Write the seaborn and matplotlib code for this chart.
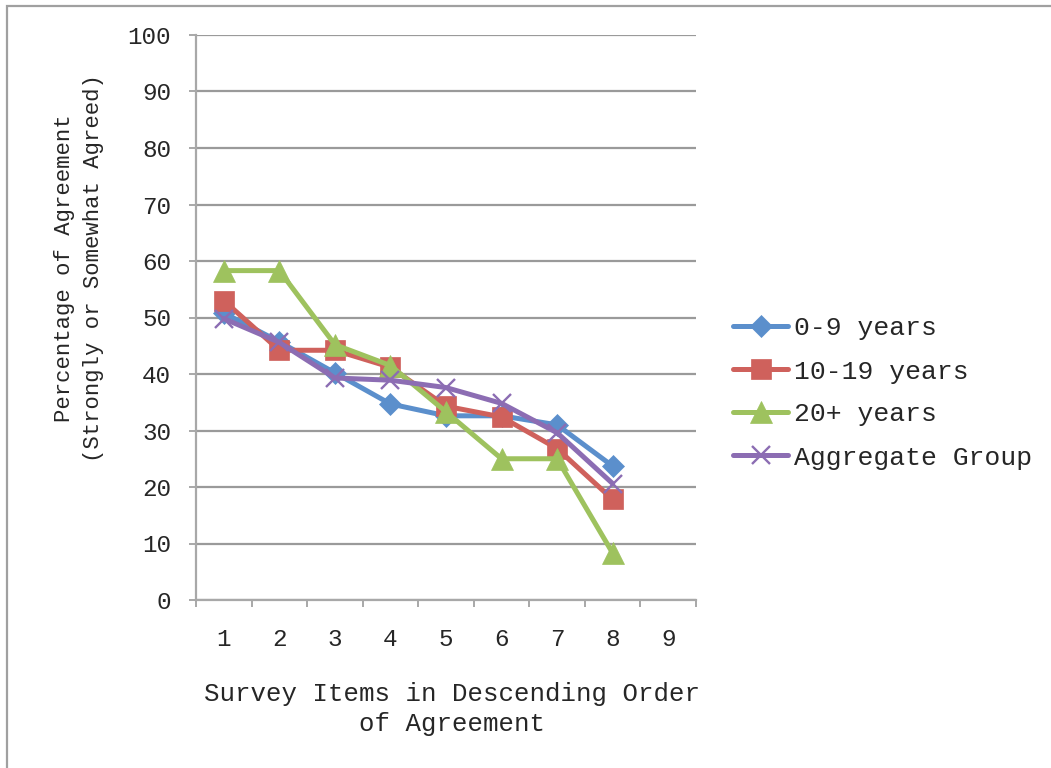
import matplotlib
matplotlib.use("Agg")
import matplotlib.pyplot as plt
from matplotlib.patches import Rectangle
import seaborn as sns
import pandas as pd

# Survey items (x positions) and tick labels
items = [1, 2, 3, 4, 5, 6, 7, 8]
tick_labels = ["1", "2", "3", "4", "5", "6", "7", "8", "9"]

# Percentage of agreement per experience group
years_0_9 = [50.8, 45.7, 40.2, 34.7, 32.6, 32.6, 31.0, 23.7]
years_10_19 = [53.0, 44.2, 44.2, 41.2, 34.3, 32.4, 26.8, 17.8]
years_20_plus = [58.3, 58.3, 45.2, 41.5, 33.3, 25.0, 25.0, 8.3]
aggregate = [49.8, 45.6, 39.3, 38.9, 37.6, 34.8, 29.6, 20.6]

groups = ["0-9 years", "10-19 years", "20+ years", "Aggregate Group"]
series = [years_0_9, years_10_19, years_20_plus, aggregate]

colors = ["#5B8FCC", "#CF615C", "#9EC25E", "#8C6DB3"]
markers = ["D", "s", "^", "x"]
msizes = [11.5, 14, 15.5, 13]

df = pd.concat(
    [pd.DataFrame({"item": items, "pct": vals, "group": g}) for g, vals in zip(groups, series)],
    ignore_index=True,
)

sns.set_style("white")
plt.rcParams["font.family"] = ["Liberation Mono", "DejaVu Sans Mono"]

fig = plt.figure(figsize=(10.51, 7.68), dpi=100)
W, H = 1051, 768
ax = fig.add_axes([196 / W, 1 - 600 / H, 500 / W, 565 / H])

for g, c, m, ms in zip(groups, colors, markers, msizes):
    sub = df[df["group"] == g]
    sns.lineplot(
        data=sub, x="item", y="pct", ax=ax, color=c, label=g,
        marker=m, markersize=ms, markeredgecolor=c, markerfacecolor=c,
        markeredgewidth=1.7 if m == "x" else 0.5, linewidth=3.6,
        errorbar=None, zorder=3,
    )

grid_col = "#9A9A9A"
ax.set_xlim(0.5, 9.5)
ax.set_ylim(0, 100)
ax.set_yticks(range(0, 101, 10))
ax.set_xticks(range(1, 10))
ax.set_xticklabels(tick_labels)
ax.set_xticks([x + 0.5 for x in range(0, 10)], minor=True)
ax.yaxis.grid(True, color=grid_col, linewidth=1.6)
ax.xaxis.grid(False)
ax.set_axisbelow(True)

for side in ["top", "right"]:
    ax.spines[side].set_visible(False)
for side in ["left", "bottom"]:
    ax.spines[side].set_color("#A8A8A8")
    ax.spines[side].set_linewidth(1.6)
    ax.spines[side].set_zorder(1)

ax.tick_params(axis="y", which="major", length=5, width=1.4, color="#A8A8A8",
               labelsize=17.5, pad=13, direction="out", left=True)
ax.tick_params(axis="x", which="major", length=0, labelsize=17.5, pad=20)
ax.tick_params(axis="x", which="minor", length=5, width=1.4, color="#A8A8A8",
               direction="out", bottom=True)

ax.set_xlabel("")
ax.set_ylabel("")

fig.text(79 / W, 1 - 268 / H,
         "Percentage of Agreement\n(Strongly or Somewhat Agreed)",
         rotation=90, ha="center", va="center", multialignment="center",
         fontsize=16, linespacing=1.5)
fig.text(452 / W, 1 - 709 / H,
         "Survey Items in Descending Order\nof Agreement",
         ha="center", va="center", multialignment="center",
         fontsize=18.5, linespacing=1.35)

handles, labels = ax.get_legend_handles_labels()
ax.legend(handles, labels, loc="center left", bbox_to_anchor=(733 / W, 1 - 393 / H),
          bbox_transform=fig.transFigure, frameon=False, fontsize=19,
          handlelength=2.1, handletextpad=0.2, labelspacing=0.72, borderpad=0,
          borderaxespad=0)

# Outer chart border
fig.patches.append(Rectangle((7 / W, -0.1), 2.0, 1.1 - 6 / H,
                             transform=fig.transFigure, fill=False,
                             edgecolor="#A0A0A0", linewidth=1.6))

fig.savefig("out.png", dpi=100)
